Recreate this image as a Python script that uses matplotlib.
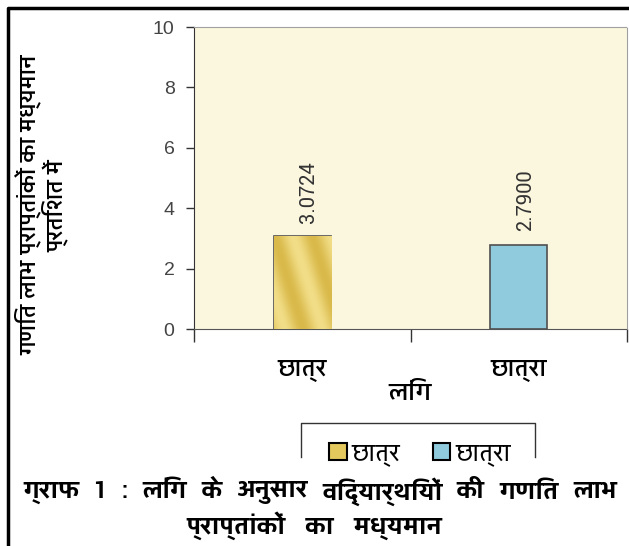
import matplotlib
matplotlib.use('Agg')
import numpy as np
import matplotlib.pyplot as plt
from matplotlib.patches import Patch
from matplotlib.lines import Line2D

# Data
categories = ['छात्र', 'छात्रा']
mean_gain = [3.0724, 2.7900]
value_labels = ['3.0724', '2.7900']
bar_colors = ['#E3C85E', '#8FCBDC']
y_ticks = [0, 2, 4, 6, 8, 10]
caption_words = ['ग्राफ', '1', ':', 'लिंग', 'के', 'अनुसार', 'विद्यार्थियों', 'की', 'गणित', 'लाभ']

HINDI = ['Yantramanav', 'Noto Sans Devanagari', 'DejaVu Sans']

fig = plt.figure(figsize=(6.29, 5.46), dpi=100)
fig.patch.set_facecolor('white')

# Plot area
ax = fig.add_axes([194 / 629, 1 - 329 / 546, 433 / 629, 302 / 546])
ax.set_facecolor('#FBF7DF')

x = np.arange(len(categories))
bars = ax.bar(x, mean_gain, width=0.265, color=bar_colors,
              edgecolor='#505050', linewidth=1.2, zorder=3)

# Light diagonal sheen on the gold bar, clipped to the bar shape
b = bars[0]
xx, yy = np.meshgrid(np.linspace(0, 1, 60), np.linspace(0, 1, 60))
sheen = np.sin((xx * 3.0 + yy * 1.5) * np.pi) * 0.5 + 0.5
img = ax.imshow(sheen, extent=[b.get_x(), b.get_x() + b.get_width(), 0, b.get_height()],
                cmap=matplotlib.colors.LinearSegmentedColormap.from_list('gold', ['#D9B94A', '#F2DE88']),
                aspect='auto', zorder=3.5, origin='lower')
img.set_clip_path(b)

# Value labels above bars, rotated
for xi, v, lab in zip(x, mean_gain, value_labels):
    ax.text(xi + 0.03, v + 0.45, lab, rotation=90, ha='center', va='bottom',
            fontsize=16, color='#333333', family=['Yantramanav', 'DejaVu Sans'])

ax.set_xlim(-0.5, 1.5)
ax.set_ylim(0, 10)
ax.set_yticks(y_ticks)
ax.set_yticklabels([str(t) for t in y_ticks], fontsize=14, color='#444444',
                   family=['Liberation Sans', 'DejaVu Sans'])
ax.tick_params(axis='y', direction='out', length=6, width=1, color='#333333', pad=8)

# Boundary ticks on x axis, category names as minor ticks
ax.set_xticks([-0.5, 0.5, 1.5])
ax.set_xticklabels([])
ax.tick_params(axis='x', which='major', direction='out', length=9, width=1, color='#333333')
ax.set_xticks(x, minor=True)
ax.set_xticklabels(categories, minor=True, fontsize=18, family=HINDI, color='black',
                   fontweight='medium')
ax.tick_params(axis='x', which='minor', length=0, pad=22)

ax.set_xlabel('लिंग', fontsize=19, family=HINDI, labelpad=0, fontweight='medium')
ax.set_ylabel('गणित लाभ प्राप्तांकों का मध्यमान\nप्रतिशत में', fontsize=17, family=HINDI,
              fontweight='medium', linespacing=1.0)
ax.yaxis.set_label_coords(-0.29, 0.41)

ax.spines['left'].set_color('#333333')
ax.spines['bottom'].set_color('#555555')
ax.spines['bottom'].set_linestyle((0, (1, 1)))
for s in ['top', 'right']:
    ax.spines[s].set_color('#A0A0A0')
    ax.spines[s].set_linestyle((0, (1, 1)))

# Legend (open at the bottom, as in the reference)
handles = [Patch(facecolor=c, edgecolor='black', linewidth=1.5) for c in bar_colors]
leg = fig.legend(handles, categories, loc='upper center', bbox_to_anchor=(420 / 629, 1 - 420 / 546),
                 ncol=2, frameon=False, prop={'family': HINDI, 'size': 18},
                 handlelength=0.7, handleheight=0.7, handletextpad=0.2, columnspacing=1.3)
fig.add_artist(Line2D([301 / 629, 301 / 629, 535 / 629, 535 / 629],
                      [1 - 457 / 546, 1 - 423 / 546, 1 - 423 / 546, 1 - 457 / 546],
                      transform=fig.transFigure, color='#333333', linewidth=1))

# Caption, first line spread across the width like justified text
renderer = fig.canvas.get_renderer()
texts = [fig.text(0, 1 - 492 / 546, w, ha='left', va='center', fontsize=19,
                  fontweight='bold', family=HINDI) for w in caption_words]
widths = [t.get_window_extent(renderer).width / fig.bbox.width for t in texts]
gap = (594 / 629 - sum(widths)) / (len(texts) - 1)
pos = 23 / 629
for t, w in zip(texts, widths):
    t.set_x(pos)
    pos += w + gap
fig.text(314 / 629, 1 - 526 / 546, 'प्राप्तांकों   का   मध्यमान',
         ha='center', va='center', fontsize=19, fontweight='bold', family=HINDI)

# Outer frame (top and left visible)
fig.add_artist(Line2D([8 / 629, 8 / 629, 1.0], [0.0, 1 - 8 / 546, 1 - 8 / 546],
                      transform=fig.transFigure, color='black', linewidth=2.5))

fig.savefig('out.png', dpi=100)
